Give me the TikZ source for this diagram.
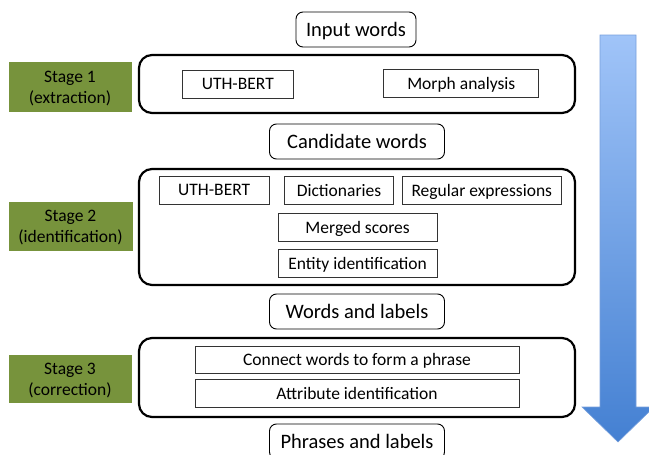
\documentclass[tikz,border=0pt]{standalone}
\usepackage{fontspec}
\setmainfont{Carlito}
\definecolor{stagegreen}{RGB}{119,147,60}
\definecolor{arrtop}{RGB}{160,196,248}
\definecolor{arrbot}{RGB}{68,128,210}
\definecolor{arredge}{RGB}{120,160,220}
\begin{document}
\begin{tikzpicture}[x=1pt,y=-1pt,
  flowbox/.style={draw=black, line width=0.9pt, rounded corners=7pt, inner sep=0pt, text depth=0pt, font=\fontsize{20.5}{24}\selectfont},
  stagebox/.style={draw=black, line width=2.2pt, rounded corners=13pt, inner sep=0pt},
  toolbox/.style={draw=black!80, line width=0.8pt, inner sep=0pt, text depth=0pt, font=\fontsize{17.5}{20}\selectfont},
  stagelabel/.style={fill=stagegreen, inner sep=0pt, align=center, text depth=0pt, font=\fontsize{17.5}{21}\selectfont}]
\clip (0,0) rectangle (649,455);
% flow labels
\node[flowbox, minimum width=120pt, minimum height=35pt] (inp) at (356,29.5) {Input words};
\node[flowbox, minimum width=175pt, minimum height=35pt] (cand) at (357,141.5) {Candidate words};
\node[flowbox, minimum width=175pt, minimum height=35pt] (wl) at (357,311.5) {Words and labels};
\node[flowbox, minimum width=175pt, minimum height=35pt] (pl) at (357,441.5) {Phrases and labels};
% stage containers
\node[stagebox, minimum width=436pt, minimum height=58pt] (s1) at (357,84) {};
\node[stagebox, minimum width=436pt, minimum height=116pt] (s2) at (357,227) {};
\node[stagebox, minimum width=436pt, minimum height=79pt] (s3) at (357,377.5) {};
% stage labels
\node[stagelabel, minimum width=123pt, minimum height=50pt] (l1) at (70,87) {Stage 1\\(extraction)};
\node[stagelabel, minimum width=124pt, minimum height=49pt] (l2) at (70.5,226.5) {Stage 2\\(identification)};
\node[stagelabel, minimum width=123pt, minimum height=48pt] (l3) at (70,379) {Stage 3\\(correction)};
% stage 1 tools
\node[toolbox, minimum width=110.5pt, minimum height=28pt] (ub1) at (237.8,84) {UTH-BERT};
\node[toolbox, minimum width=155pt, minimum height=28pt] (morph) at (461.3,83) {Morph analysis};
% stage 2 tools
\node[toolbox, minimum width=110.5pt, minimum height=28pt] (ub2) at (214.2,190) {UTH-BERT};
\node[toolbox, minimum width=109pt, minimum height=28pt] (dict) at (339,190) {Dictionaries};
\node[toolbox, minimum width=159pt, minimum height=28pt] (regex) at (481.8,190) {Regular expressions};
\node[toolbox, minimum width=159pt, minimum height=28pt] (merge) at (357.6,227) {Merged scores};
\node[toolbox, minimum width=159pt, minimum height=28pt] (ent) at (357.6,263) {Entity identification};
% stage 3 tools
\node[toolbox, minimum width=324pt, minimum height=27pt] (conn) at (357,359.5) {Connect words to form a phrase};
\node[toolbox, minimum width=324pt, minimum height=28pt] (attr) at (357,393) {Attribute identification};
% big arrow
\shade[top color=arrtop, bottom color=arrbot, draw=arredge, line width=0.6pt]
  (600,35) -- (636,35) -- (636,407) -- (654,407) -- (618,442) -- (582,407) -- (600,407) -- cycle;
\end{tikzpicture}
\end{document}
